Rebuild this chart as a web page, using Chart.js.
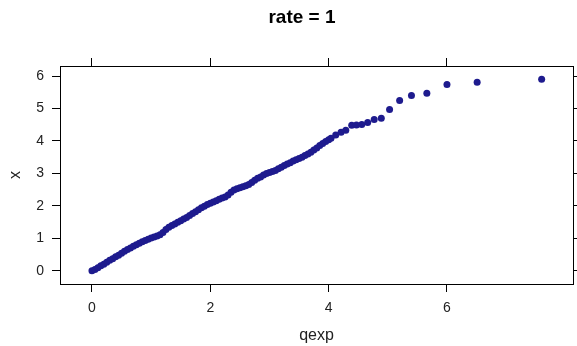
<!DOCTYPE html>
<html>
<head>
<meta charset="utf-8">
<script src="https://cdn.jsdelivr.net/npm/chart.js@4"></script>
<style>
  html, body { margin: 0; padding: 0; background: #fff; }
  #wrap { width: 577px; height: 346px; }
</style>
</head>
<body>
<div id="wrap"><canvas id="qq"></canvas></div>
<script>
const chartTitle = "rate = 1";
const xTitle = "qexp";
const yTitle = "x";
const xTicks = [0, 2, 4, 6];
const yTicks = [0, 1, 2, 3, 4, 5, 6];

// theoretical quantiles
const qexpVals = [
  0.00, 0.05, 0.10, 0.15, 0.20, 0.25, 0.30, 0.35, 0.40, 0.45,
  0.50, 0.55, 0.60, 0.65, 0.70, 0.75, 0.80, 0.85, 0.90, 0.95,
  1.00, 1.05, 1.10, 1.15, 1.20, 1.25, 1.30, 1.35, 1.40, 1.45,
  1.50, 1.55, 1.60, 1.65, 1.70, 1.75, 1.80, 1.85, 1.90, 1.95,
  2.00, 2.05, 2.10, 2.15, 2.20, 2.25, 2.30, 2.35, 2.40, 2.45,
  2.50, 2.55, 2.60, 2.65, 2.70, 2.75, 2.80, 2.85, 2.90, 2.95,
  3.00, 3.05, 3.10, 3.15, 3.20, 3.25, 3.30, 3.35, 3.40, 3.45,
  3.50, 3.55, 3.60, 3.65, 3.70, 3.75, 3.80, 3.85, 3.90, 3.95,
  4.00, 4.04, 4.12, 4.21, 4.29, 4.39, 4.47, 4.56, 4.66, 4.77,
  4.89, 5.03, 5.20, 5.40, 5.66, 6.00, 6.51, 7.60
];
// sample quantiles
const sampleVals = [
  0.00, 0.04, 0.09, 0.15, 0.20, 0.26, 0.32, 0.37, 0.43, 0.48,
  0.54, 0.60, 0.65, 0.70, 0.75, 0.80, 0.85, 0.89, 0.93, 0.97,
  1.01, 1.04, 1.07, 1.11, 1.18, 1.27, 1.34, 1.39, 1.44, 1.49,
  1.54, 1.59, 1.64, 1.70, 1.76, 1.82, 1.88, 1.94, 1.99, 2.04,
  2.08, 2.12, 2.16, 2.20, 2.24, 2.27, 2.33, 2.42, 2.49, 2.53,
  2.56, 2.59, 2.62, 2.66, 2.72, 2.79, 2.85, 2.89, 2.95, 3.00,
  3.03, 3.06, 3.09, 3.14, 3.19, 3.24, 3.29, 3.33, 3.38, 3.42,
  3.46, 3.50, 3.55, 3.60, 3.65, 3.72, 3.78, 3.86, 3.92, 3.98,
  4.04, 4.08, 4.18, 4.27, 4.33, 4.48, 4.49, 4.51, 4.57, 4.66,
  4.70, 4.97, 5.25, 5.40, 5.47, 5.74, 5.81, 5.90
];

const points = qexpVals.map((q, i) => ({ x: q, y: sampleVals[i] }));

const fontFamily = "'Liberation Sans', Arial, sans-serif";
const ink = "#000000";

const fixSize = (prop, v) => (scale) => { scale[prop] = v; };

const titlePlugin = {
  id: "mainTitle",
  afterDraw(chart) {
    const c = chart.ctx;
    c.save();
    c.font = "bold 19px " + fontFamily;
    c.fillStyle = ink;
    c.textAlign = "center";
    c.textBaseline = "middle";
    c.fillText(chartTitle, 302, 18);
    c.restore();
  },
};

const tickOpts = (show) => ({
  display: show,
  color: "#222",
  font: { family: fontFamily, size: 14 },
  padding: 8,
  includeBounds: false,
});

const gridOpts = {
  drawOnChartArea: false,
  drawTicks: true,
  tickLength: 8,
  color: ink,
  lineWidth: 1,
};

new Chart(document.getElementById("qq").getContext("2d"), {
  type: "scatter",
  data: {
    datasets: [
      {
        data: points,
        backgroundColor: "#1e1b8e",
        borderWidth: 0,
        pointRadius: 3.5,
      },
    ],
  },
  options: {
    responsive: true,
    maintainAspectRatio: false,
    animation: false,
    layout: { padding: 0 },
    plugins: { legend: { display: false }, tooltip: { enabled: false } },
    scales: {
      x: {
        type: "linear",
        position: "bottom",
        min: -0.54,
        max: 8.13,
        afterBuildTicks: (s) => { s.ticks = xTicks.map((v) => ({ value: v })); },
        afterFit: fixSize("height", 62),
        ticks: tickOpts(true),
        grid: gridOpts,
        border: { display: true, color: ink, width: 1 },
        title: {
          display: true,
          text: xTitle,
          color: "#222",
          font: { family: fontFamily, size: 16 },
          padding: { top: 0, bottom: 1 },
        },
      },
      x2: {
        type: "linear",
        position: "top",
        min: -0.54,
        max: 8.13,
        afterBuildTicks: (s) => { s.ticks = xTicks.map((v) => ({ value: v })); },
        afterFit: fixSize("height", 66),
        ticks: tickOpts(false),
        grid: gridOpts,
        border: { display: true, color: ink, width: 1 },
      },
      y: {
        type: "linear",
        position: "left",
        min: -0.41,
        max: 6.31,
        afterBuildTicks: (s) => { s.ticks = yTicks.map((v) => ({ value: v })); },
        afterFit: fixSize("width", 60),
        ticks: tickOpts(true),
        grid: gridOpts,
        border: { display: true, color: ink, width: 1 },
        title: {
          display: true,
          text: yTitle,
          color: "#222",
          font: { family: fontFamily, size: 16 },
          padding: { top: 6, bottom: 0 },
        },
      },
      y2: {
        type: "linear",
        position: "right",
        min: -0.41,
        max: 6.31,
        afterBuildTicks: (s) => { s.ticks = yTicks.map((v) => ({ value: v })); },
        afterFit: fixSize("width", 3),
        ticks: tickOpts(false),
        grid: gridOpts,
        border: { display: true, color: ink, width: 1 },
      },
    },
  },
  plugins: [titlePlugin],
});
</script>
</body>
</html>
